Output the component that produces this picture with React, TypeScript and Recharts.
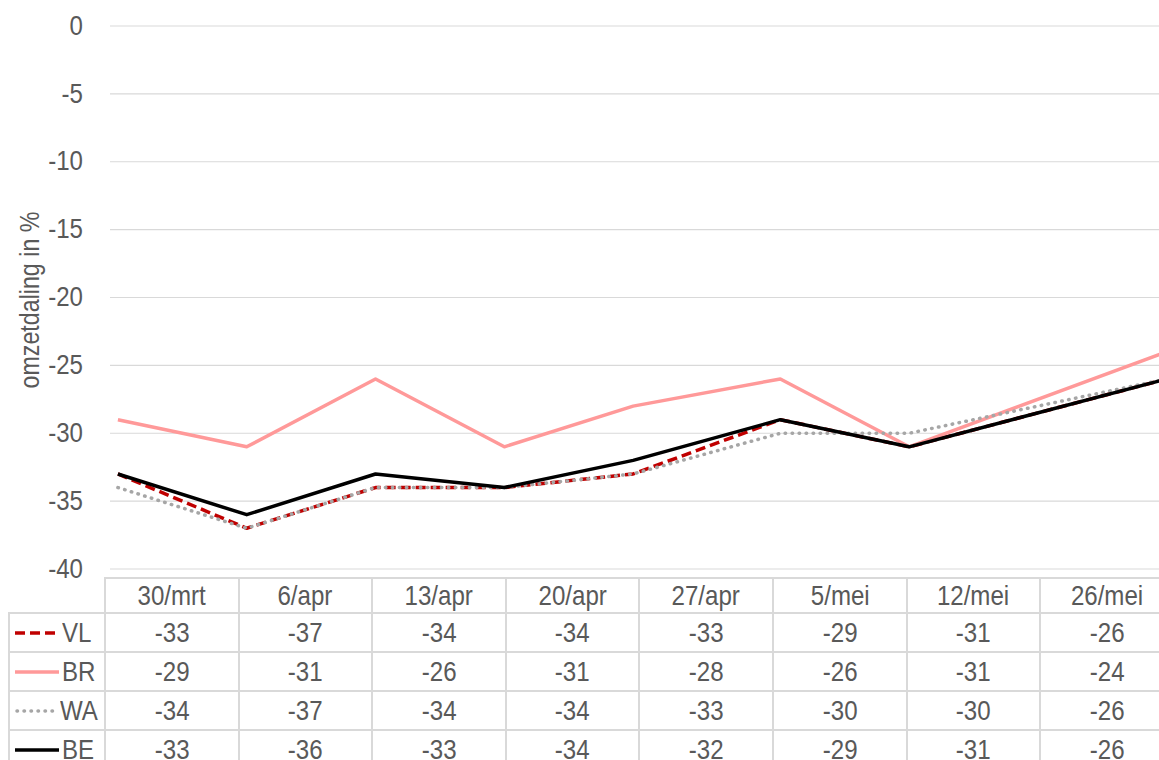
import { CartesianGrid, Line, LineChart, XAxis, YAxis } from "recharts";

const categories = ["30/mrt", "6/apr", "13/apr", "20/apr", "27/apr", "5/mei", "12/mei", "26/mei"];
// days since 30 March (the chart uses a date axis)
const dayOffsets = [0, 7, 14, 21, 28, 36, 43, 57];

const vlValues = [-33, -37, -34, -34, -33, -29, -31, -26];
const brValues = [-29, -31, -26, -31, -28, -26, -31, -24];
const waValues = [-34, -37, -34, -34, -33, -30, -30, -26];
const beValues = [-33, -36, -33, -34, -32, -29, -31, -26];

const yTicks = [0, -5, -10, -15, -20, -25, -30, -35, -40];

const FONT = '"Liberation Sans", Arial, sans-serif';
const TEXT = "#595959";
const GRID = "#d9d9d9";
const FS = 28;
// the original uses a narrow face; squeeze the regular one
const SQUEEZE = 0.86;

type SeriesDef = {
  key: string;
  label: string;
  values: number[];
  color: string;
  dash?: string;
  cap?: "round" | "butt";
};

const series: SeriesDef[] = [
  { key: "VL", label: "VL", values: vlValues, color: "#c00000", dash: "10 5" },
  { key: "BR", label: "BR", values: brValues, color: "#ff9999" },
  { key: "WA", label: "WA", values: waValues, color: "#a6a6a6", dash: "0.5 6.5", cap: "round" },
  { key: "BE", label: "BE", values: beValues, color: "#000000" },
];

const rows = categories.map((cat, i) => {
  const row: Record<string, number | string> = { cat, day: dayOffsets[i] };
  series.forEach((s) => {
    row[s.key] = s.values[i];
  });
  return row;
});

function YTick({ x, y, payload }: any) {
  const ty = y - 1;
  return (
    <text
      x={x}
      y={ty}
      textAnchor="end"
      dominantBaseline="central"
      fill={TEXT}
      fontSize={FS}
      fontFamily={FONT}
      transform={`translate(${x} ${ty}) scale(${SQUEEZE} 1) translate(${-x} ${-ty})`}
    >
      {payload.value}
    </text>
  );
}

function Narrow({ children, origin = "center" }: { children: React.ReactNode; origin?: string }) {
  return (
    <span
      style={{
        display: "inline-block",
        transform: `scaleX(${SQUEEZE})`,
        transformOrigin: origin,
      }}
    >
      {children}
    </span>
  );
}

function LegendKey({ s }: { s: SeriesDef }) {
  return (
    <svg width={46} height={10} style={{ display: "block" }}>
      <line
        x1={s.cap === "round" ? 3 : 1}
        x2={45}
        y1={5}
        y2={5}
        stroke={s.color}
        strokeWidth={3.5}
        strokeDasharray={s.dash}
        strokeLinecap={s.cap ?? "butt"}
      />
    </svg>
  );
}

export default function App() {
  const cellBorder = `2px solid ${GRID}`;
  return (
    <div
      style={{
        position: "absolute",
        left: 0,
        top: 0,
        width: 1159,
        height: 760,
        overflow: "hidden",
        background: "#fff",
        fontFamily: FONT,
      }}
    >
      <table
        style={{
          position: "absolute",
          left: 8,
          top: 577,
          borderCollapse: "collapse",
          tableLayout: "fixed",
          width: 96 + 8 * 133.6,
          fontSize: FS,
          color: TEXT,
        }}
      >
        <colgroup>
          <col style={{ width: 96 }} />
          {categories.map((c) => (
            <col key={c} style={{ width: 133.6 }} />
          ))}
        </colgroup>
        <tbody>
          <tr style={{ height: 35 }}>
            <td style={{ border: "none", padding: 0 }} />
            {categories.map((c) => (
              <td
                key={c}
                style={{ border: cellBorder, textAlign: "center", padding: 0, lineHeight: 1 }}
              >
                <Narrow>{c}</Narrow>
              </td>
            ))}
          </tr>
          {series.map((s) => (
            <tr key={s.key} style={{ height: 39 }}>
              <td style={{ border: cellBorder, padding: 0, lineHeight: 1 }}>
                <div style={{ display: "flex", alignItems: "center", paddingLeft: 4 }}>
                  <LegendKey s={s} />
                  <span style={{ marginLeft: 2 }}>
                    <Narrow origin="left">{s.label}</Narrow>
                  </span>
                </div>
              </td>
              {s.values.map((v, i) => (
                <td
                  key={categories[i]}
                  style={{ border: cellBorder, textAlign: "center", padding: 0, lineHeight: 1 }}
                >
                  <Narrow>{v}</Narrow>
                </td>
              ))}
            </tr>
          ))}
        </tbody>
      </table>

      <div style={{ position: "absolute", left: 0, top: 0 }}>
        <LineChart
          width={1173}
          height={578}
          data={rows}
          margin={{ top: 26, right: 0, bottom: 9, left: 0 }}
        >
          <CartesianGrid vertical={false} stroke={GRID} strokeWidth={1.2} />
          <XAxis
            type="number"
            dataKey="day"
            domain={[-0.43, 57.34]}
            allowDataOverflow
            hide
          />
          <YAxis
            domain={[-40, 0]}
            ticks={yTicks}
            width={110}
            axisLine={false}
            tickLine={false}
            tickSize={0}
            tickMargin={27}
            tick={<YTick />}
            interval={0}
          />
          {series.map((s) => (
            <Line
              key={s.key}
              type="linear"
              dataKey={s.key}
              stroke={s.color}
              strokeWidth={3.5}
              strokeDasharray={s.dash}
              strokeLinecap={s.cap ?? "butt"}
              strokeLinejoin="round"
              dot={false}
              activeDot={false}
              isAnimationActive={false}
            />
          ))}
        </LineChart>
      </div>

      <div
        style={{
          position: "absolute",
          left: 30,
          top: 300,
          transform: `translate(-50%, -50%) rotate(-90deg) scaleX(${SQUEEZE})`,
          whiteSpace: "nowrap",
          fontSize: 27,
          color: TEXT,
          lineHeight: 1,
        }}
      >
        omzetdaling in %
      </div>
    </div>
  );
}
